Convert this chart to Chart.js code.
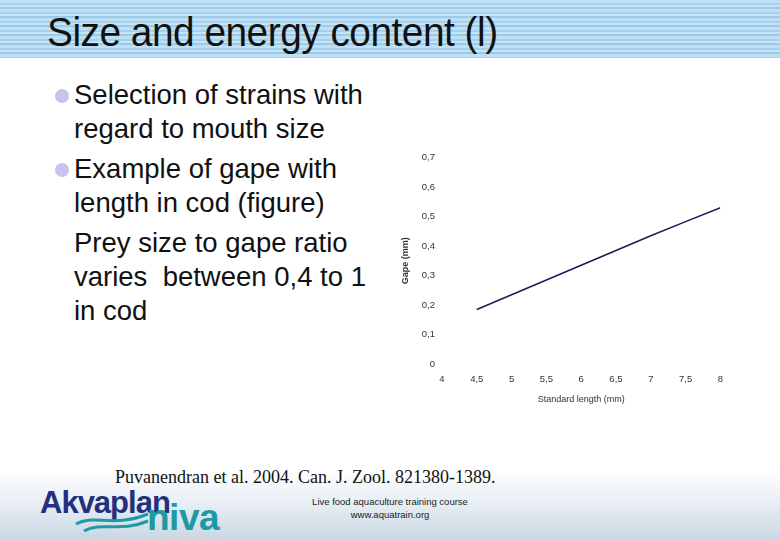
<!DOCTYPE html>
<html>
<head>
<meta charset="utf-8">
<script src="https://cdn.jsdelivr.net/npm/chart.js@4"></script>
<style>
  body { margin: 0; width: 780px; height: 540px; overflow: hidden; background: #fff; font-family: "Liberation Sans", Arial, sans-serif; position: relative; }
  #bar { position: absolute; left: 0; top: 0; width: 780px; height: 58px;
    background: repeating-linear-gradient(180deg, #bde0f4 0px, #bde0f4 3px, #a6d1ee 3px, #a6d1ee 5px, #c6e4f5 5px, #c6e4f5 7px, #9ccbea 7px, #9ccbea 9px); }
  #title { position: absolute; left: 47px; top: 10px; font-size: 40px; color: #111; letter-spacing: -0.5px; transform: scaleX(0.97); transform-origin: left; }
  #foot { position: absolute; left: 0; top: 470px; width: 780px; height: 70px; background: linear-gradient(180deg, #ffffff 0%, #e6edf3 50%, #c9d7e3 100%); }
  ul { position: absolute; left: 52px; top: 78px; margin: 0; padding: 0; list-style: none; font-size: 27.5px; line-height: 34px; color: #111; }
  li { position: relative; padding-left: 22px; width: 300px; }
  li.b::before { content: ""; position: absolute; left: 3px; top: 11px; width: 14px; height: 14px; border-radius: 50%; background: #c4c4ec; }
  li + li { margin-top: 6px; }
  #cite { position: absolute; left: 115px; top: 467px; font-family: "Liberation Serif", "Times New Roman", serif; font-size: 18px; color: #111; }
  #course { position: absolute; left: 290px; top: 495px; width: 200px; text-align: center; font-size: 9.5px; line-height: 13px; color: #222; }
  #logo1 { position: absolute; left: 40px; top: 485px; font-size: 31px; font-weight: bold; color: #24307e; letter-spacing: -1px; }
  #logo2 { position: absolute; left: 147px; top: 497px; font-size: 37px; font-weight: bold; color: #1c9aa6; letter-spacing: -0.5px; }
  #waves { position: absolute; left: 72px; top: 510px; }
  #wrap { position: absolute; left: 400px; top: 145px; width: 333px; height: 260px; }
</style>
</head>
<body>
<div id="bar"></div>
<div id="title">Size and energy content (l)</div>
<div id="foot"></div>
<ul>
  <li class="b">Selection of strains with regard to mouth size</li>
  <li class="b">Example of gape with length in cod (figure)</li>
  <li>Prey size to gape ratio varies&nbsp; between 0,4 to 1 in cod</li>
</ul>
<div id="wrap"><canvas id="gapeChart"></canvas></div>
<div id="cite">Puvanendran et al. 2004. Can. J. Zool. 821380-1389.</div>
<div id="course">Live food aquaculture training course<br>www.aquatrain.org</div>
<div id="logo1">Akvaplan</div>
<svg id="waves" width="78" height="24">
  <path d="M4 14 C 22 4, 42 18, 76 4" stroke="#1c9aa6" stroke-width="3" fill="none"/>
  <path d="M12 21 C 30 11, 48 23, 76 11" stroke="#1c9aa6" stroke-width="3" fill="none"/>
</svg>
<div id="logo2">niva</div>
<script>
let lengths = [4.5, 5, 5.5, 6, 6.5, 7, 7.5, 8];
let gapes = [0.185, 0.235, 0.285, 0.335, 0.385, 0.435, 0.483, 0.53];
let xTicks = [4, 4.5, 5, 5.5, 6, 6.5, 7, 7.5, 8];
let yTicks = [0, 0.1, 0.2, 0.3, 0.4, 0.5, 0.6, 0.7];

Chart.defaults.font.family = "'Liberation Sans', Arial, sans-serif";
Chart.defaults.color = "#333";

let ctx = document.getElementById("gapeChart").getContext("2d");
let gapeChart = new Chart(ctx, {
  type: "line",
  data: {
    datasets: [
      {
        label: "Gape",
        data: lengths.map((x, i) => ({ x: x, y: gapes[i] })),
        borderColor: "#1c1c5c",
        borderWidth: 1.5,
        pointRadius: 0,
        tension: 0,
        fill: false,
      },
    ],
  },
  options: {
    responsive: true,
    maintainAspectRatio: false,
    animation: false,
    layout: { padding: { top: 11, right: 10, left: 0, bottom: 0 } },
    plugins: { legend: { display: false }, tooltip: { enabled: false } },
    scales: {
      x: {
        type: "linear",
        min: 4,
        max: 8,
        border: { display: false },
        grid: { display: false, drawTicks: false },
        afterBuildTicks: (s) => { s.ticks = xTicks.map((v) => ({ value: v })); },
        ticks: {
          font: { size: 9.5 },
          padding: 10,
          maxRotation: 0,
          callback: (v) => String(v).replace(".", ","),
        },
        title: { display: true, text: "Standard length (mm)", font: { size: 9 }, padding: { top: 4, bottom: 0 } },
        afterFit: (s) => { s.height = 41; },
      },
      y: {
        min: 0,
        max: 0.7,
        border: { display: false },
        grid: { display: false, drawTicks: false },
        afterBuildTicks: (s) => { s.ticks = yTicks.map((v) => ({ value: v })); },
        ticks: {
          font: { size: 9.5 },
          padding: 7,
          callback: (v) => String(Math.round(v * 10) / 10).replace(".", ","),
        },
        title: { display: true, text: "Gape (mm)", font: { size: 9, weight: "bold" }, padding: { top: 0, bottom: 4 } },
        afterFit: (s) => { s.width = 42; },
      },
    },
  },
});
</script>
</body>
</html>
